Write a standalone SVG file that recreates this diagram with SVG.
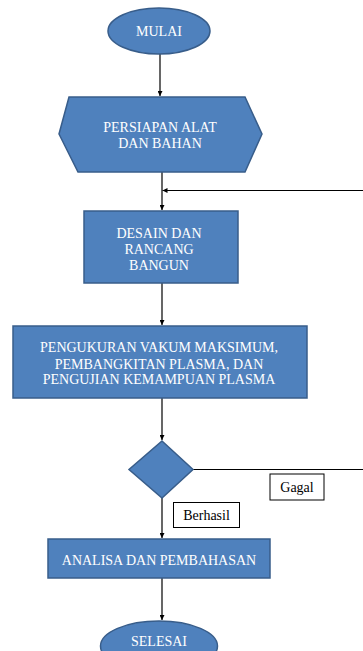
<svg xmlns="http://www.w3.org/2000/svg" width="363" height="651" viewBox="0 0 363 651">
<style>
.shape{fill:#4F81BD;stroke:#385D8A;stroke-width:1.5}
.t{font-family:'Liberation Serif','DejaVu Serif',serif;font-size:14px;fill:#FFFFFF;text-anchor:middle}
.lbl{font-family:'Liberation Serif','DejaVu Serif',serif;font-size:14px;fill:#000000;text-anchor:middle}
.box{fill:#FFFFFF;stroke:#000000;stroke-width:1}
.c{fill:none;stroke:#000000;stroke-width:1.2}
</style>
<defs>
<marker id="ah" viewBox="0 0 10 10" refX="10" refY="5" markerWidth="5" markerHeight="5" markerUnits="userSpaceOnUse" orient="auto">
<path d="M0,0 L10,5 L0,10 z" fill="#000000"/>
</marker>
</defs>
<rect width="363" height="651" fill="#FFFFFF"/>
<g id="connectors">
<line class="c" x1="160" y1="54" x2="160" y2="96" marker-end="url(#ah)"/>
<line class="c" x1="162" y1="172" x2="162" y2="210" marker-end="url(#ah)"/>
<line class="c" x1="363" y1="190.5" x2="162.5" y2="190.5" marker-end="url(#ah)"/>
<line class="c" x1="162" y1="283" x2="162" y2="325" marker-end="url(#ah)"/>
<line class="c" x1="162" y1="398" x2="162" y2="440" marker-end="url(#ah)"/>
<line class="c" x1="193" y1="469.5" x2="363" y2="469.5"/>
<line class="c" x1="162" y1="498" x2="162" y2="538" marker-end="url(#ah)"/>
<line class="c" x1="162" y1="578" x2="162" y2="620" marker-end="url(#ah)"/>
</g>
<g id="mulai">
<ellipse class="shape" cx="159" cy="31" rx="51" ry="23"/>
<text class="t" x="159" y="36">MULAI</text>
</g>
<g id="persiapan">
<polygon class="shape" points="69,97 245,97 262,134 245,172 78,172 59,134"/>
<text class="t" x="160" y="132">PERSIAPAN ALAT</text>
<text class="t" x="160" y="148">DAN BAHAN</text>
</g>
<g id="desain">
<rect class="shape" x="84" y="211" width="154" height="72"/>
<text class="t" x="159" y="238">DESAIN DAN</text>
<text class="t" x="159" y="254">RANCANG</text>
<text class="t" x="159" y="270">BANGUN</text>
</g>
<g id="pengukuran">
<rect class="shape" x="13" y="326" width="294" height="72"/>
<text class="t" x="159" y="352">PENGUKURAN VAKUM MAKSIMUM,</text>
<text class="t" x="159" y="368.5">PEMBANGKITAN PLASMA, DAN</text>
<text class="t" x="159" y="384">PENGUJIAN KEMAMPUAN PLASMA</text>
</g>
<g id="keputusan">
<polygon class="shape" points="162,441 193,469.5 162,498 129,469.5"/>
</g>
<g id="gagal">
<rect class="box" x="270" y="474" width="54" height="26"/>
<text class="lbl" x="297" y="492">Gagal</text>
</g>
<g id="berhasil">
<rect class="box" x="173.5" y="502.5" width="66" height="25"/>
<text class="lbl" x="206.5" y="520">Berhasil</text>
</g>
<g id="analisa">
<rect class="shape" x="48" y="539" width="222" height="39"/>
<text class="t" x="159" y="565">ANALISA DAN PEMBAHASAN</text>
</g>
<g id="selesai">
<ellipse class="shape" cx="159" cy="646" rx="58.5" ry="25"/>
<text class="t" x="159" y="646">SELESAI</text>
</g>
</svg>
